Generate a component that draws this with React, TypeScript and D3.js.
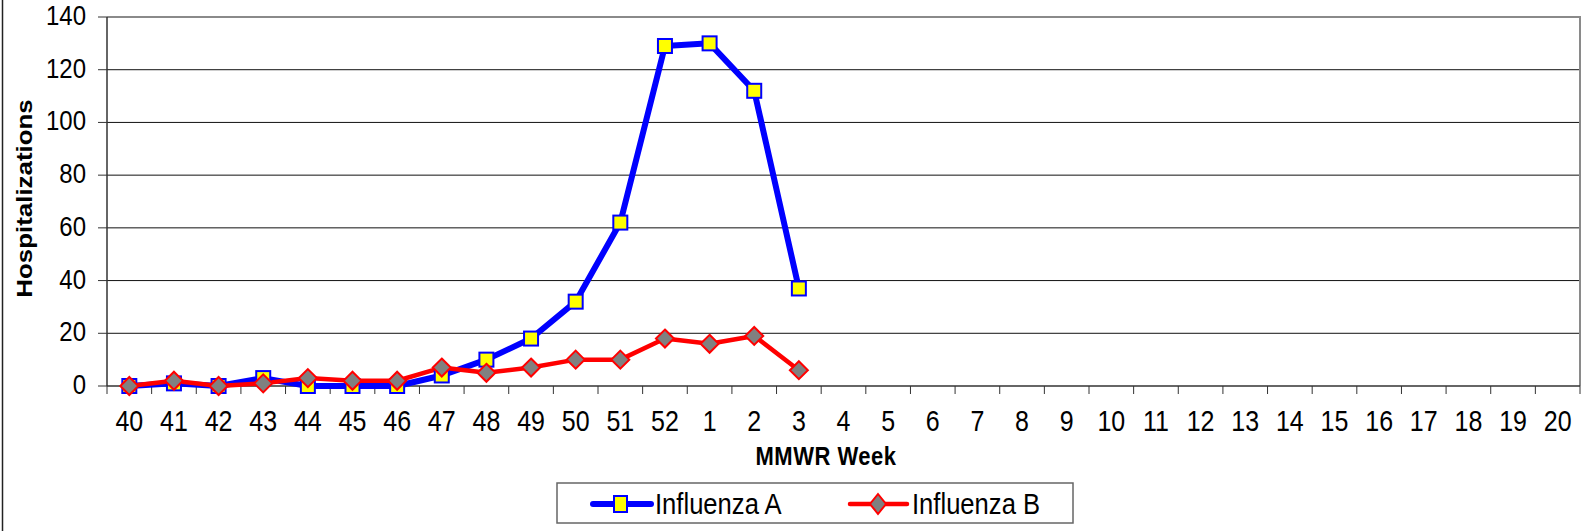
import { useRef, useEffect } from 'react'
import * as d3 from 'd3'

const weeks = ['40', '41', '42', '43', '44', '45', '46', '47', '48', '49', '50', '51', '52', '1', '2', '3', '4', '5', '6', '7', '8', '9', '10', '11', '12', '13', '14', '15', '16', '17', '18', '19', '20']
const fluA = [0, 1, 0, 3, 0, 0, 0, 4, 10, 18, 32, 62, 129, 130, 112, 37]
const fluB = [0, 2, 0, 1, 3, 2, 2, 7, 5, 7, 10, 10, 18, 16, 19, 6]
const yTicks = [0, 20, 40, 60, 80, 100, 120, 140]

const W = 1585
const H = 531
const margin = { top: 17, right: 5, bottom: 145, left: 107 }
const font = '"Liberation Sans", Arial, sans-serif'
const stretch = 'scale(1,1.15)'

function drawChart(target: SVGSVGElement) {
  const svg = d3.select(target)
  svg.selectAll('*').remove()

  const x = d3
    .scaleBand()
    .domain(weeks)
    .range([margin.left, W - margin.right])
  const y = d3
    .scaleLinear()
    .domain([0, 140])
    .range([H - margin.bottom, margin.top])

  const x0 = margin.left
  const x1 = W - margin.right
  const yb = y(0)

  // outer frame edge
  svg.append('line').attr('x1', 2.5).attr('x2', 2.5).attr('y1', 0).attr('y2', H).attr('stroke', '#222').attr('stroke-width', 1.5)

  // gridlines
  svg
    .append('g')
    .selectAll('line')
    .data(yTicks.filter((d) => d > 0 && d < 140))
    .join('line')
    .attr('x1', x0)
    .attr('x2', x1)
    .attr('y1', (d) => y(d))
    .attr('y2', (d) => y(d))
    .attr('stroke', '#111')
    .attr('stroke-width', 1)

  // plot border top/right
  svg.append('path').attr('d', `M${x0},${y(140)}H${x1}V${yb}`).attr('fill', 'none').attr('stroke', '#8a8a8a').attr('stroke-width', 2)

  // y axis
  svg.append('line').attr('x1', x0).attr('x2', x0).attr('y1', y(140)).attr('y2', yb).attr('stroke', '#333').attr('stroke-width', 1.5)
  const yg = svg.append('g')
  yg.selectAll('line')
    .data(yTicks)
    .join('line')
    .attr('x1', x0 - 9)
    .attr('x2', x0)
    .attr('y1', (d) => y(d))
    .attr('y2', (d) => y(d))
    .attr('stroke', '#333')
  yg.selectAll('text')
    .data(yTicks)
    .join('text')
    .attr('transform', (d) => `translate(${x0 - 21},${y(d) + 8}) ${stretch}`)
    .attr('text-anchor', 'end')
    .attr('font-family', font)
    .attr('font-size', 24)
    .attr('fill', '#000')
    .text((d) => d)

  // x axis
  svg.append('line').attr('x1', x0).attr('x2', x1).attr('y1', yb).attr('y2', yb).attr('stroke', '#333').attr('stroke-width', 1.5)
  const xg = svg.append('g')
  xg.selectAll('line')
    .data(weeks)
    .join('line')
    .attr('x1', (d) => (x(d) as number) + x.bandwidth())
    .attr('x2', (d) => (x(d) as number) + x.bandwidth())
    .attr('y1', yb)
    .attr('y2', yb + 8)
    .attr('stroke', '#333')
  xg.append('line').attr('x1', x0).attr('x2', x0).attr('y1', yb).attr('y2', yb + 8).attr('stroke', '#333')
  xg.selectAll('text')
    .data(weeks)
    .join('text')
    .attr('transform', (d) => `translate(${(x(d) as number) + x.bandwidth() / 2},${yb + 45}) ${stretch}`)
    .attr('text-anchor', 'middle')
    .attr('font-family', font)
    .attr('font-size', 25)
    .attr('fill', '#000')
    .text((d) => d)

  // axis titles
  svg
    .append('text')
    .attr('transform', `translate(826,${yb + 79}) ${stretch}`)
    .attr('text-anchor', 'middle')
    .attr('font-family', font)
    .attr('font-weight', 'bold')
    .attr('font-size', 22)
    .attr('letter-spacing', 0.5)
    .text('MMWR Week')
  svg
    .append('text')
    .attr('transform', `translate(31.5,198.5) rotate(-90) scale(1.15,1)`)
    .attr('text-anchor', 'middle')
    .attr('font-family', font)
    .attr('font-weight', 'bold')
    .attr('font-size', 22.5)
    .text('Hospitalizations')

  const cx = (i: number) => (x(weeks[i]) as number) + x.bandwidth() / 2
  const line = d3
    .line<number>()
    .x((d, i) => cx(i))
    .y((d) => y(d))

  // Influenza A
  svg.append('path').datum(fluA).attr('d', line).attr('fill', 'none').attr('stroke', '#0000ff').attr('stroke-width', 6).attr('stroke-linejoin', 'round')
  // Influenza B
  svg.append('path').datum(fluB).attr('d', line).attr('fill', 'none').attr('stroke', '#ff0000').attr('stroke-width', 4.5).attr('stroke-linejoin', 'round')

  svg
    .append('g')
    .selectAll('rect')
    .data(fluA)
    .join('rect')
    .attr('x', (d, i) => cx(i) - 7)
    .attr('y', (d) => y(d) - 7)
    .attr('width', 14)
    .attr('height', 14)
    .attr('fill', '#ffff00')
    .attr('stroke', '#0000ff')
    .attr('stroke-width', 2)

  const diamond = (px: number, py: number) => `M${px},${py - 9}L${px + 9},${py}L${px},${py + 9}L${px - 9},${py}Z`
  svg
    .append('g')
    .selectAll('path')
    .data(fluB)
    .join('path')
    .attr('d', (d, i) => diamond(cx(i), y(d)))
    .attr('fill', '#808080')
    .attr('stroke', '#ff0000')
    .attr('stroke-width', 2)

  // legend
  const lg = svg.append('g')
  lg.append('rect').attr('x', 557).attr('y', 483).attr('width', 516).attr('height', 40).attr('fill', '#fff').attr('stroke', '#666').attr('stroke-width', 1.5)
  lg.append('line').attr('x1', 593).attr('x2', 651).attr('y1', 504).attr('y2', 504).attr('stroke', '#0000ff').attr('stroke-width', 6).attr('stroke-linecap', 'round')
  lg.append('rect').attr('x', 614).attr('y', 496).attr('width', 13).attr('height', 16).attr('fill', '#ffff00').attr('stroke', '#0000ff').attr('stroke-width', 2)
  lg.append('text')
    .attr('transform', `translate(655,514) ${stretch}`)
    .attr('font-family', font)
    .attr('font-size', 25.6)
    .text('Influenza A')
  lg.append('line').attr('x1', 850).attr('x2', 907).attr('y1', 504).attr('y2', 504).attr('stroke', '#ff0000').attr('stroke-width', 4.5).attr('stroke-linecap', 'round')
  lg.append('path').attr('d', `M878,494L886,504L878,514L870,504Z`).attr('fill', '#808080').attr('stroke', '#ff0000').attr('stroke-width', 2)
  lg.append('text')
    .attr('transform', `translate(912,514) ${stretch}`)
    .attr('font-family', font)
    .attr('font-size', 25.6)
    .text('Influenza B')
}

export default function App() {
  const ref = useRef<SVGSVGElement>(null)

  useEffect(() => {
    if (ref.current) drawChart(ref.current)
  }, [])

  return (
    <div style={{ position: 'absolute', left: 0, top: 0 }}>
      <svg ref={ref} width={W} height={H} style={{ display: 'block', background: '#fff' }} />
    </div>
  )
}
